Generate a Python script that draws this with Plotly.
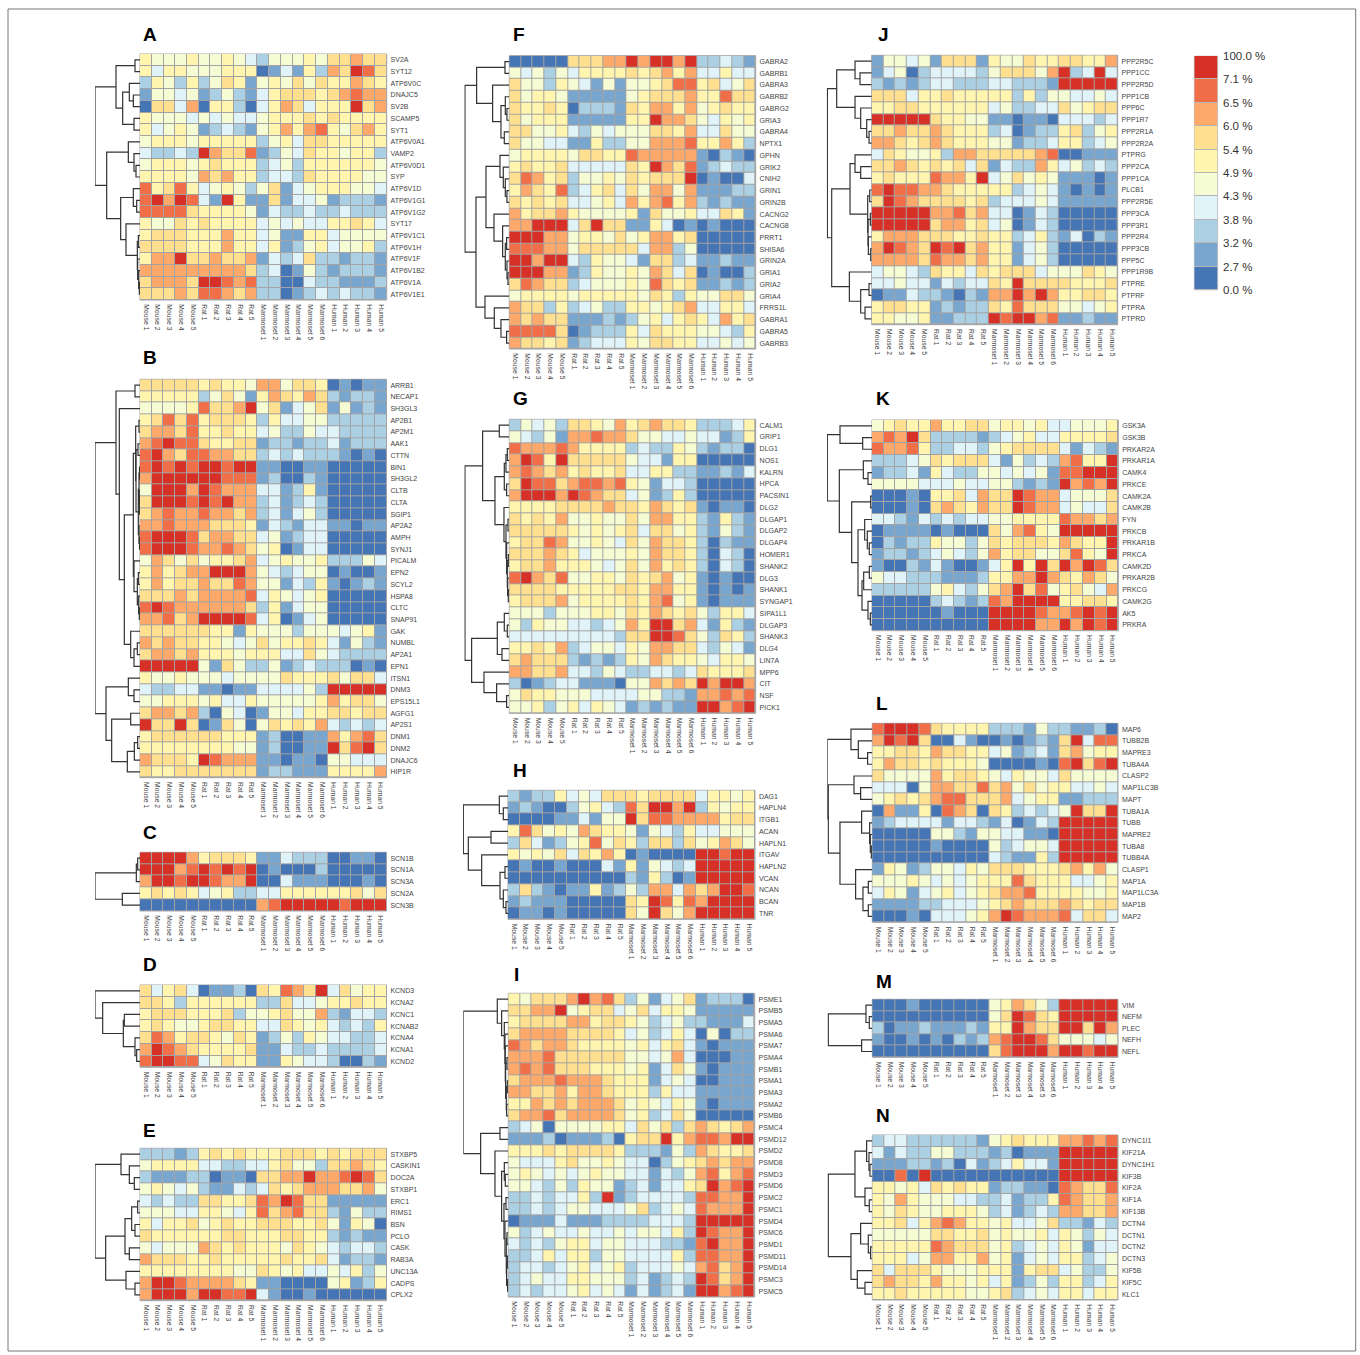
import plotly.graph_objects as go

SAMPLES = ["Mouse %d" % i for i in range(1, 6)] + ["Rat %d" % i for i in range(1, 6)] + \
          ["Marmoset %d" % i for i in range(1, 7)] + ["Human %d" % i for i in range(1, 6)]
COLORS = ["#4575B4", "#78A6CF", "#ABD0E4", "#E0F3F8", "#F5FBD2", "#FFF5AF", "#FEE090", "#FDA96B", "#F06E48", "#D73027"]
LEGEND_LABELS = ["0.0 %", "2.7 %", "3.2 %", "3.8 %", "4.3 %", "4.9 %", "5.4 %", "6.0 %", "6.5 %", "7.1 %", "100.0 %"]

# Each row: colour bin (0-9) per sample. Trees: [height, left, right], 0 = leaf.
A_GENES = ["SV2A","SYT12","ATP6V0C","DNAJC5","SV2B","SCAMP5","SYT1","ATP6V0A1","VAMP2","ATP6V0D1","SYP","ATP6V1D","ATP6V1G1","ATP6V1G2","SYT17","ATP6V1C1","ATP6V1H","ATP6V1F","ATP6V1B2","ATP6V1A","ATP6V1E1"]
A_ROWS = ["54445 44543 244454 66766","53554 44555 013152 76986","25425 24651 454646 55765","14434 12421 356665 67877","06637 05520 357635 55967","54443 43433 455565 65555","53454 12321 457578 54675","45554 55555 245366 55555","32232 97668 124365 54552","45554 56555 234255 55554","55554 76755 233265 55544","85685 34542 461345 55443","89798 31951 161334 12221","88886 55554 132232 23222","54465 65555 343433 55653","56665 55755 341155 34444","66665 55755 351245 34452","57796 67667 132362 21221","77777 77776 230142 12221","67776 99878 220032 21112","66676 88767 220123 23221"]
A_TREE = [135,[72,[15,0,0],[52,[32,0,[20,0,0]],[18,0,0]]],[100,[35,0,[18,0,[12,0,0]]],[58,[20,0,[10,0,0]],[42,0,[8,[5,0,0],[7,0,[4,0,[2,0,0]]]]]]]]

B_GENES = ["ARRB1","NECAP1","SH3GL3","AP2B1","AP2M1","AAK1","CTTN","BIN1","SH3GL2","CLTB","CLTA","SGIP1","AP2A2","AMPH","SYNJ1","PICALM","EPN2","SCYL2","HSPA8","CLTC","SNAP91","GAK","NUMBL","AP2A1","EPN1","ITSN1","DNM3","EPS15L1","AGFG1","AP2S1","DNM1","DNM2","DNAJC6","HIP1R"]
B_ROWS = ["66666 56554 774665 01011","55555 24641 576576 21221","44445 86679 461346 14121","56868 56665 253344 22222","67768 55655 342243 32222","78988 65566 122122 31222","89768 87766 232322 21010","89898 99899 110011 00000","79999 99888 120021 00000","49997 98777 331251 00000","69998 98977 231232 00000","67877 87767 231342 00000","77877 76665 132133 11011","89998 67766 341233 00000","89998 77876 450133 00000","47646 45567 345445 22243","57567 79997 432344 01001","57566 76687 441325 10121","66676 77778 354345 00000","89877 77776 251344 00000","77867 99998 350134 00000","66666 65515 444244 43451","76766 55434 645565 31421","67767 55545 553364 32222","99999 41642 241232 22010","54454 44344 446555 64663","32233 11011 333342 99999","44555 45335 444445 75664","67767 20430 144355 66566","96696 01640 465657 32323","56666 66555 120011 75786","55555 55544 120011 96896","76665 98777 110110 44333","65566 66666 122111 55557"]
B_TREE = [135,[72,[15,0,0],[62,0,[47,[20,[13,[3,0,0],[12,[6,0,0],[5,[3,[1.5,0,0],[2,[1,0,0],0]],[3,0,[1.5,0,0]]]]],[18,0,[8,[5,0,0],[4,0,[2,0,0]]]]],[28,0,[18,[8,0,0],0]]]]],[102,[35,0,[18,0,0]],[85,[28,0,0],[38,[17,[7,0,0],0],0]]]]

C_GENES = ["SCN1B","SCN1A","SCN3A","SCN2A","SCN3B"]
C_ROWS = ["99997 56665 113222 00110","99978 98989 010002 00000","79989 98779 003111 00010","56565 34522 335555 55646","00000 00000 789999 98999"]
C_TREE = [135,[11,[7,0,0],0],[53,0,0]]

D_GENES = ["KCND3","KCNA2","KCNC1","KCNAB2","KCNA4","KCNA1","KCND2"]
D_ROWS = ["63563 01120 658769 36455","66525 55555 226334 55655","56665 55624 456447 21332","56544 56655 336545 32325","68756 65465 124254 33223","79876 55556 113223 22223","89988 34655 115433 20021"]
D_TREE = [135,0,[112,0,[50,[47,0,0],[15,0,[10,0,0]]]]]

E_GENES = ["STXBP5","CASKIN1","DOC2A","STXBP1","ERC1","RIMS1","BSN","PCLO","CASK","RAB3A","UNC13A","CADPS","CPLX2"]
E_ROWS = ["22212 56565 556665 65666","45555 33223 356442 66765","21112 20110 667797 78986","45434 21132 365677 76674","32322 66556 879866 11111","44433 55435 867866 21422","53556 45655 666556 41540","65555 55665 556655 21211","43444 76565 554654 32332","76665 56555 556556 31221","55555 55544 654533 43524","79987 77765 110000 45125","79997 99889 310010 00000"]
E_TREE = [135,[57,0,[32,0,[17,0,0]]],[103,[45,[25,[7,0,0],[15,0,0]],[32,0,0]],[42,0,[15,0,0]]]]

F_GENES = ["GABRA2","GABRB1","GABRA3","GABRB2","GABRG2","GRIA3","GABRA4","NPTX1","GPHN","GRIK2","CNIH2","GRIN1","GRIN2B","CACNG2","CACNG8","PRRT1","SHISA6","GRIN2A","GRIA1","GRIA2","GRIA4","FRRS1L","GABRA1","GABRA5","GABRB3"]
F_ROWS = ["00000 66677 979979 22321","43424 35555 656757 33533","64425 43141 445688 56346","64554 11111 456667 55866","65565 02221 657757 45655","64555 11111 559776 43545","66445 32434 446657 33644","64433 11522 447778 55752","45555 46655 877777 10210","56556 33333 659768 12322","68756 24454 656669 01003","57658 23563 647747 11122","65656 33453 757857 21211","75667 54444 516445 33651","77999 36966 115301 01000","99977 45546 457756 00000","88877 46666 637724 00000","99799 32544 316623 11211","99977 12544 547636 01002","68766 23444 548656 11212","45555 45555 546525 44664","76625 23422 554567 33553","76766 11121 245356 53756","88886 01222 536555 44325","76656 12333 546655 33434"]
F_TREE = [133,[98,[13,0,0],[50,0,[25,[12,0,[7,0,0]],[15,0,0]]]],[100,[70,[28,0,[18,0,[12,0,[7,0,0]]]],[46,0,[20,0,[12,[8,0,0],[7,0,[4,0,0]]]]]],[73,0,[45,0,[25,0,[8,0,0]]]]]]

G_GENES = ["CALM1","GRIP1","DLG1","NOS1","KALRN","HPCA","PACSIN1","DLG2","DLGAP1","DLGAP2","DLGAP4","HOMER1","SHANK2","DLG3","SHANK1","SYNGAP1","SIPA1L1","DLGAP3","SHANK3","DLG4","LIN7A","MPP6","CIT","NSF","PICK1"]
G_ROWS = ["24342 66547 567665 22235","43241 77877 644334 33125","87778 75555 232254 21220","79859 66666 433155 00000","78767 56556 335522 11213","69886 78878 541332 00000","79997 98766 341252 00000","55556 66676 657656 10110","65657 44544 647755 21521","66666 54545 636645 21421","56687 44543 647665 20211","66676 53444 547665 20320","56675 55434 647565 20320","89768 44554 656745 10100","66665 55556 657755 10101","56667 45555 657845 10111","44424 44554 657656 42553","42544 33234 759967 31521","33333 33332 669986 42652","55657 23443 547766 32431","67666 21212 547655 43554","77667 33243 223323 65556","20123 31110 447676 97997","46554 44333 344221 77878","44524 53543 121211 99789"]
G_TREE = [133,[80,[30,0,0],[43,[15,[10,[6,0,0],0],[8,0,0]],[16,0,[10,[4,0,0],[8,0,[6,[3,0,0],[5,0,[3,0,0]]]]]]]],[113,[36,[15,0,[6,0,0]],[22,0,0]],[76,0,[38,0,[8,0,0]]]]]

H_GENES = ["DAG1","HAPLN4","ITGB1","ACAN","HAPLN1","ITGAV","HAPLN2","VCAN","NCAN","BCAN","TNR"]
H_ROWS = ["21225 34366 656666 35545","12100 24532 869979 25455","00001 13144 968877 77566","58645 47655 414325 33444","26312 45846 526626 45764","54546 36575 010000 99899","01001 00031 514323 99999","00000 00000 215201 99999","26210 11512 427737 67998","12111 00000 659858 79999","01101 00000 649647 99999"]
H_TREE = [134,[26,0,[14,0,0]],[119,[51,0,0],[79,0,[24,[9,0,0],[14,0,[6,0,0]]]]]]

I_GENES = ["PSME1","PSMB5","PSMA5","PSMA6","PSMA7","PSMA4","PSMB1","PSMA1","PSMA3","PSMA2","PSMB6","PSMC4","PSMD12","PSMD2","PSMD8","PSMD3","PSMD6","PSMC2","PSMC1","PSMD4","PSMC6","PSMD1","PSMD11","PSMD14","PSMC3","PSMC5"]
I_ROWS = ["54666 79786 241346 12220","66779 45663 463554 11111","56666 77566 542342 21113","67777 66665 342353 04022","87677 65555 453563 10111","77786 66666 443473 00011","78786 66555 451364 10111","67778 77765 551343 00111","77667 57765 552533 11111","55767 67776 454354 10111","67786 77776 452364 00000","23404 44455 364626 76567","11120 11120 566957 88799","55565 66665 222142 76556","43335 64454 330245 67677","45434 34544 331324 78578","44324 25441 231335 69789","22323 35291 233332 88779","22323 44333 462343 87779","01113 11122 223332 99999","42343 34334 344352 98779","32324 55344 333221 89779","22353 55244 333352 88779","23323 45345 233343 78679","23433 55444 231232 98679","23233 45343 131231 99789"]
I_TREE = [135,[33,0,[20,0,[12,0,[10,0,[9,0,[8,[4,0,0],[6,[3,0,0],[5,0,0]]]]]]]],[83,[25,0,0],[40,0,[20,[12,0,[9,0,0]],[13,[7,0,0],[10,0,[6,[4,0,0],[5,[3,0,0],[2,0,0]]]]]]]]]

J_GENES = ["PPP2R5C","PPP1CC","PPP2R5D","PPP1CB","PPP6C","PPP1R7","PPP2R1A","PPP2R2A","PTPRG","PPP2CA","PPP1CA","PLCB1","PPP2R5E","PPP3CA","PPP3R1","PPP2R4","PPP3CB","PPP5C","PPP1R9B","PTPRE","PTPRF","PTPRA","PTPRD"]
J_ROWS = ["14434 16661 544655 66557","13402 33332 466647 92393","21212 33222 332221 99999","66635 56555 552524 43343","55665 55555 342233 64566","99999 65544 110110 33323","66766 76555 230122 56245","77656 76555 441223 55234","36544 52776 666678 00111","66765 65636 132275 34232","56555 87759 346454 11101","89887 76555 552343 10101","69876 66656 233343 11111","99999 77867 330132 00000","99999 67756 340132 00000","57776 66556 552352 13021","79876 98967 551342 00000","77776 87767 551342 00000","34432 65536 566634 44654","33433 13233 659666 65556","01132 21021 779797 55665","56655 12122 658666 44345","55445 11222 989978 11211"]
J_TREE = [133,[105,[50,0,[35,0,0]],[50,0,[33,0,[15,0,[8,0,0]]]]],[120,[65,[50,0,[33,0,0]],[12,[6,0,0],[11,[4,0,0],[10,0,[3,0,0]]]]],[67,0,[33,[8,0,0],[20,0,0]]]]]

K_GENES = ["GSK3A","GSK3B","PRKAR2A","PRKAR1A","CAMK4","PRKCE","CAMK2A","CAMK2B","FYN","PRKCB","PRKAR1B","PRKCA","CAMK2D","PRKAR2B","PRKCG","CAMK2G","AK5","PRKRA"]
K_ROWS = ["45655 75566 455453 34445","78796 22221 234533 55556","87785 22332 456666 31321","22234 65666 314232 78559","12231 53224 434341 88999","44443 33433 442121 97879","00010 55637 669877 34446","00010 67657 669877 34336","33213 23233 445555 87767","01111 01000 647854 99999","02122 54424 656665 76559","12212 34324 756644 68549","10021 31001 359596 97986","43322 21112 557797 65764","22222 45324 679684 56437","00000 23212 879999 55665","00000 01000 999987 78989","00000 00000 999977 97989"]
K_TREE = [134,[96,0,[28,0,0]],[98,[26,0,[12,0,0]],[61,[4,0,0],[42,[22,0,[14,0,[8,0,0]]],[30,[25,[8,0,0],0],[12,0,[5,0,0]]]]]]]

L_GENES = ["MAP6","TUBB2B","MAPRE3","TUBA4A","CLASP2","MAP1LC3B","MAPT","TUBA1A","TUBB","MAPRE2","TUBA8","TUBB4A","CLASP1","MAP1A","MAP1LC3A","MAP1B","MAP2"]
L_ROWS = ["89998 65555 222142 21120","79896 00310 010121 69388","55665 76655 341231 67455","57665 65554 000010 89689","64444 75665 435443 64444","33304 77668 674645 53343","45656 78866 673455 11222","07115 08760 652323 49669","12333 31332 130132 99999","00000 44214 433110 99999","00000 10000 423443 99999","00000 00000 321152 99999","15412 44354 666555 67574","44454 34345 558655 53345","35413 45345 677855 55445","11112 23334 567666 76566","00010 33345 798777 83663"]
L_TREE = [135,[64,0,[42,0,[14,0,0]]],[132,[55,0,[35,0,0]],[97,[32,0,[8,0,[6,0,[3,0,0]]]],[50,0,[28,[12,0,0],[12,0,0]]]]]]

M_GENES = ["VIM","NEFM","PLEC","NEFH","NEFL"]
M_ROWS = ["00010 00000 457642 99999","00000 00000 469865 99999","20112 11121 559766 99697","10010 10212 789986 44434","00000 00000 689997 99899"]
M_TREE = [132,[19,0,[9,0,0]],[32,0,0]]

N_GENES = ["DYNC1I1","KIF21A","DYNC1H1","KIF3B","KIF2A","KIF1A","KIF13B","DCTN4","DCTN1","DCTN2","DCTN3","KIF5B","KIF5C","KLC1"]
N_ROWS = ["23322 22221 456555 77878","31322 44222 120111 99999","11122 12031 235331 99999","00809 00000 000000 99999","55453 65655 122110 87668","54754 44332 231225 87667","54654 45554 231232 77667","55635 78755 453346 22132","44444 66556 454453 54243","55555 87666 452343 54133","55534 77557 451343 55234","63666 54445 551566 34224","67665 75545 351242 55235","55655 55544 562343 55355"]
N_TREE = [132,[52,[17,0,[10,0,[7,0,0]]],[22,0,[9,0,0]]],[64,[35,0,[12,0,[5,0,0]]],[45,0,[22,0,0]]]]

# name, genes, rows, tree, heat rectangle (left, top, right, bottom), letter position
PANELS = [
    ("A", A_GENES, A_ROWS, A_TREE, (140, 54, 386.7, 300), (141, 35)),
    ("B", B_GENES, B_ROWS, B_TREE, (140, 379.3, 386.5, 777.7), (141, 358)),
    ("C", C_GENES, C_ROWS, C_TREE, (140, 852.3, 386.5, 911), (141, 832)),
    ("D", D_GENES, D_ROWS, D_TREE, (140, 985, 386.5, 1067.3), (141, 964)),
    ("E", E_GENES, E_ROWS, E_TREE, (140, 1148.3, 386.5, 1300.7), (141, 1130)),
    ("F", F_GENES, F_ROWS, F_TREE, (509.3, 55.7, 755.7, 349), (511, 35)),
    ("G", G_GENES, G_ROWS, G_TREE, (509.3, 419.3, 755.7, 713.3), (511, 398)),
    ("H", H_GENES, H_ROWS, H_TREE, (508, 790.3, 755, 919.3), (511, 770)),
    ("I", I_GENES, I_ROWS, I_TREE, (508.3, 993.3, 754.7, 1297), (512, 974)),
    ("J", J_GENES, J_ROWS, J_TREE, (871.7, 55.3, 1117.7, 324.7), (876, 35)),
    ("K", K_GENES, K_ROWS, K_TREE, (872, 420, 1118.3, 630.7), (874, 398)),
    ("L", L_GENES, L_ROWS, L_TREE, (872.3, 723.3, 1118, 922.3), (874, 703)),
    ("M", M_GENES, M_ROWS, M_TREE, (872.3, 999.3, 1118, 1057.3), (874, 981)),
    ("N", N_GENES, N_ROWS, N_TREE, (872.3, 1135, 1118, 1300), (874, 1115)),
]

W, H = 1360, 1355
FAMILY = "Liberation Sans, Arial, sans-serif"
GENE_FONT = dict(family=FAMILY, size=7, color="#444444")
SAMPLE_FONT = dict(family=FAMILY, size=6.8, color="#444444")
CLEAR = "rgba(0,0,0,0)"
DENDRO_PX = 45
colorscale = []
for i, c in enumerate(COLORS):
    colorscale += [[i / 10, c], [(i + 1) / 10, c]]


def layout_tree(node, next_leaf, xs, ys):
    """Return (y, height) of node; append its elbow lines to xs, ys."""
    if node == 0:
        y = next_leaf[0]
        next_leaf[0] += 1
        return y, 0
    h, left, right = node
    y1, h1 = layout_tree(left, next_leaf, xs, ys)
    y2, h2 = layout_tree(right, next_leaf, xs, ys)
    xs += [h1, h, h, h2, None]
    ys += [y1, y1, y2, y2, None]
    return (y1 + y2) / 2, h


fig = go.Figure()
axes, shapes, annotations = {}, [], []
n = 1
for name, genes, rows, tree, (l, t, r, b), (lx, ly) in PANELS:
    z = [[int(c) for c in row.replace(" ", "")] for row in rows]
    assert len(genes) == len(z), name
    assert all(len(v) == 21 for v in z), name
    n += 1
    hx, hy = ("x%d" % n, "y%d" % n)
    fig.add_trace(go.Heatmap(z=z, x=SAMPLES, y=genes, xaxis=hx, yaxis=hy, zmin=-0.5, zmax=9.5, colorscale=colorscale,
                             showscale=False, xgap=1, ygap=1, hoverongaps=False))
    dom_y = [1 - b / H, 1 - t / H]
    axes["xaxis%d" % n] = dict(domain=[l / W, r / W], anchor=hy, side="bottom", tickangle=90, tickfont=SAMPLE_FONT,
                               tickmode="array", tickvals=SAMPLES, ticktext=SAMPLES, ticks="outside", ticklen=2,
                               tickcolor=CLEAR, showgrid=False, zeroline=False, showline=False,
                               automargin=False, categoryorder="array", categoryarray=SAMPLES)
    axes["yaxis%d" % n] = dict(domain=dom_y, anchor=hx, side="right", tickfont=GENE_FONT, tickmode="array",
                               tickvals=genes, ticktext=genes, ticks="outside", ticklen=1.5,
                               tickcolor=CLEAR, showgrid=False, zeroline=False, showline=False,
                               automargin=False, categoryorder="array", categoryarray=genes[::-1])
    shapes.append(dict(type="rect", xref="%s domain" % hx, yref="%s domain" % hy, x0=0, x1=1, y0=0, y1=1, layer="below",
                       fillcolor="#A3A3A3", line=dict(color="#A3A3A3", width=1)))
    annotations.append(dict(text="<b>%s</b>" % name, xref="paper", yref="paper", x=lx / W, y=1 - ly / H, xanchor="left",
                            yanchor="middle", showarrow=False, font=dict(family=FAMILY, size=19, color="#000000")))
    xs, ys = [], []
    counter = [0]
    layout_tree(tree, counter, xs, ys)
    assert counter[0] == len(genes), (name, counter[0], len(genes))
    n += 1
    dx, dy = ("x%d" % n, "y%d" % n)
    fig.add_trace(go.Scatter(x=xs, y=ys, xaxis=dx, yaxis=dy, mode="lines", hoverinfo="skip",
                             line=dict(color="#333333", width=1.2)))
    axes["xaxis%d" % n] = dict(domain=[(l - DENDRO_PX) / W, l / W], anchor=dy, range=[135, 0], visible=False)
    axes["yaxis%d" % n] = dict(domain=dom_y, anchor=dx, range=[len(genes) - 0.5, -0.5], visible=False)

# colour legend
n += 1
lx_, ly_ = ("x%d" % n, "y%d" % n)
fig.add_trace(go.Heatmap(z=[[i] for i in range(10)], x=[0], y=[i + 0.5 for i in range(10)], xaxis=lx_, yaxis=ly_,
                         zmin=-0.5, zmax=9.5, colorscale=colorscale, showscale=False, ygap=1))
axes["xaxis%d" % n] = dict(domain=[1194.3 / W, 1217.7 / W], anchor=ly_, visible=False)
axes["yaxis%d" % n] = dict(domain=[1 - 290 / H, 1 - 56 / H], anchor=lx_, side="right", range=[0, 10], tickmode="array",
                           tickvals=list(range(11)), ticktext=LEGEND_LABELS, showgrid=False, zeroline=False, showline=False,
                           ticks="outside", ticklen=2, tickcolor=CLEAR, tickfont=dict(family=FAMILY, size=11.5, color="#333333"))
shapes.append(dict(type="rect", xref="%s domain" % lx_, yref="%s domain" % ly_, x0=0, x1=1, y0=0, y1=1, layer="below",
                   fillcolor="#B5B5B5", line=dict(color="#B5B5B5", width=0.5)))

# outer frame
shapes.append(dict(type="rect", xref="paper", yref="paper", x0=8 / W, x1=1355.7 / W, y0=1 - 1351 / H, y1=1 - 9 / H,
                   layer="below", line=dict(color="#777777", width=1), fillcolor=CLEAR))

fig.update_layout(width=W, height=H, margin=dict(l=0, r=0, t=0, b=0, autoexpand=False), showlegend=False, paper_bgcolor="white",
                  plot_bgcolor=CLEAR, shapes=shapes, annotations=annotations, **axes)
fig.write_html("out.html", config={"displayModeBar": False}, post_script="document.body.style.margin='0';")
